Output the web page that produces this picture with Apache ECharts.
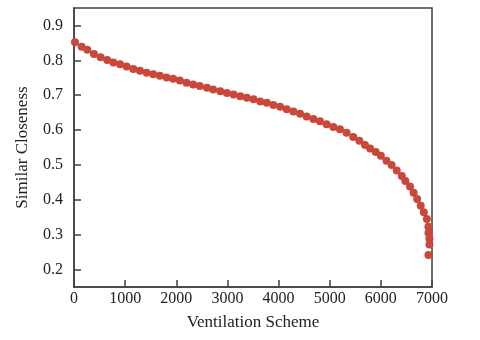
<!DOCTYPE html>
<html>
<head>
    <meta charset="utf-8">
    <title>Similar Closeness</title>
    <script src="https://cdn.jsdelivr.net/npm/echarts@6/dist/echarts.min.js"></script>
    <style>
        html, body {
            width: 100%;
            height: 100%;
            margin: 0;
            background: #ffffff;
        }
    </style>
</head>
<body>
    <div id="main" style="width: 480px;height:340px;"></div>
    <script type="text/javascript">
        // scheme index (x) and closeness (y)
        var schemeX = [20, 150, 260, 390, 520, 650, 770, 900, 1030, 1160,
            1290, 1420, 1550, 1680, 1810, 1940, 2070, 2200, 2330, 2460,
            2600, 2720, 2860, 2990, 3120, 3250, 3380, 3510, 3640, 3770,
            3900, 4030, 4160, 4290, 4420, 4550, 4680, 4810, 4940, 5070,
            5200, 5330, 5460, 5580, 5690, 5790, 5900, 6000, 6110, 6210,
            6310, 6410, 6480, 6570, 6640, 6710, 6780, 6840, 6900, 6930,
            6930, 6950, 6950, 6930];
        var closeness = [0.852, 0.839, 0.830, 0.818, 0.809, 0.801, 0.794, 0.789, 0.782, 0.775,
            0.770, 0.764, 0.760, 0.756, 0.751, 0.747, 0.742, 0.736, 0.731, 0.726,
            0.721, 0.716, 0.711, 0.706, 0.702, 0.697, 0.693, 0.688, 0.682, 0.678,
            0.672, 0.667, 0.660, 0.653, 0.647, 0.639, 0.632, 0.625, 0.617, 0.609,
            0.602, 0.592, 0.580, 0.569, 0.557, 0.547, 0.537, 0.526, 0.512, 0.500,
            0.484, 0.468, 0.454, 0.438, 0.420, 0.402, 0.383, 0.364, 0.345, 0.323,
            0.305, 0.288, 0.272, 0.242];
        var yTicks = [0.2, 0.3, 0.4, 0.5, 0.6, 0.7, 0.8, 0.9];

        var points = schemeX.map(function (x, i) {
            return [x, closeness[i]];
        });

        var font = 'Liberation Serif';
        var myChart = echarts.init(document.getElementById('main'));
        var option = {
            animation: false,
            grid: {
                left: 74, right: 48, top: 8, bottom: 53,
                show: true,
                borderColor: '#404040',
                borderWidth: 1.5
            },
            xAxis: {
                type: 'value',
                min: 0, max: 7000, interval: 1000,
                name: 'Ventilation Scheme',
                nameLocation: 'middle',
                nameGap: 27,
                nameTextStyle: { fontFamily: font, fontSize: 17, color: '#222' },
                splitLine: { show: false },
                axisLine: { lineStyle: { color: '#404040', width: 1.5 } },
                axisTick: { inside: true, length: 7, lineStyle: { color: '#404040', width: 1.5 } },
                axisLabel: {
                    fontFamily: font, fontSize: 16, color: '#222', margin: 4,
                    formatter: function (v) { return String(v); }
                }
            },
            yAxis: {
                type: 'value',
                min: 0.15, max: 0.95,
                name: 'Similar Closeness',
                nameLocation: 'middle',
                nameGap: 43,
                nameTextStyle: { fontFamily: font, fontSize: 17, color: '#222' },
                splitLine: { show: false },
                axisLine: { lineStyle: { color: '#404040', width: 1.5 } },
                axisTick: { inside: true, length: 7, customValues: yTicks, lineStyle: { color: '#404040', width: 1.5 } },
                axisLabel: {
                    fontFamily: font, fontSize: 16, color: '#222', margin: 11,
                    customValues: yTicks,
                    formatter: function (v) { return v.toFixed(1); }
                }
            },
            series: [{
                type: 'scatter',
                data: points,
                symbolSize: 8,
                itemStyle: { color: '#c9483b', opacity: 1 }
            }]
        };
        myChart.setOption(option);
    </script>
</body>
</html>
